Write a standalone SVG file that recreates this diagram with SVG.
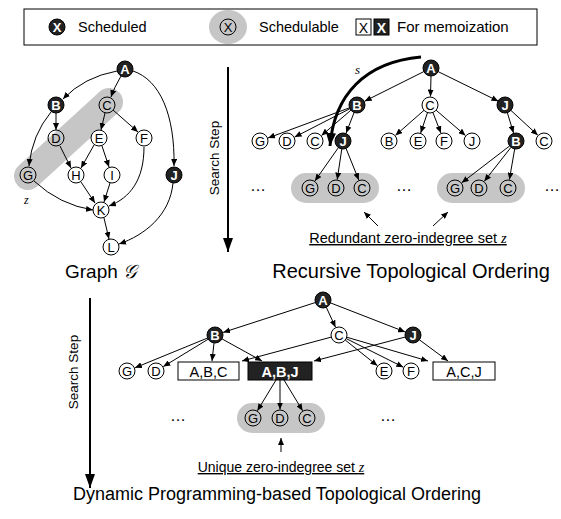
<svg xmlns="http://www.w3.org/2000/svg" width="561" height="519" viewBox="0 0 561 519">
<style>
text{font-family:"Liberation Sans",Arial,sans-serif;fill:#000}
.lbl{font-size:13px;text-anchor:middle}
.b circle{fill:#222;stroke:#000;stroke-width:1}
.b text{fill:#fff;font-weight:bold}
.w circle{fill:#fff;stroke:#000;stroke-width:1}
.g circle{fill:none;stroke:#000;stroke-width:1}
.e{fill:none;stroke:#000;stroke-width:1;marker-end:url(#ah)}
.gray{fill:#c6c6c6}
.title{font-size:19px;text-anchor:middle}
.note{font-size:14.5px;text-anchor:middle;text-decoration:underline}
.box rect{stroke:#000;stroke-width:1}
.dots{font-size:16px;text-anchor:middle}
.leg{font-size:14.5px}
.it{font-style:italic;font-family:"Liberation Serif","Times New Roman",serif}
</style>
<defs>
<marker id="ah" markerUnits="userSpaceOnUse" markerWidth="7" markerHeight="6" refX="7" refY="3" orient="auto"><path d="M0,0 L7,3 L0,6 z" fill="#000"/></marker>
<marker id="big" markerUnits="userSpaceOnUse" markerWidth="14" markerHeight="10" refX="14" refY="5" orient="auto"><path d="M0,0 L14,5 L0,10 z" fill="#000"/></marker>
<marker id="sh" markerUnits="userSpaceOnUse" markerWidth="13" markerHeight="10" refX="13" refY="5" orient="auto"><path d="M0,0 L13,5 L0,10 z" fill="#000"/></marker>
</defs>

<!-- Legend -->
<g id="legend">
<rect x="24" y="9" width="513" height="36" fill="#fff" stroke="#000" stroke-width="1"/>
<g class="b"><circle cx="57" cy="27" r="8"/><text class="lbl" x="57" y="31.5">X</text></g>
<text class="leg" x="78" y="32">Scheduled</text>
<ellipse class="gray" cx="228" cy="27" rx="19" ry="17"/>
<g class="g"><circle cx="228" cy="27" r="8"/><text class="lbl" x="228" y="31.5">X</text></g>
<text class="leg" x="259" y="32">Schedulable</text>
<rect x="356" y="19" width="15" height="16" fill="#fff" stroke="#000"/>
<text x="363.5" y="32.5" font-size="14" text-anchor="middle">X</text>
<rect x="374" y="19" width="15" height="16" fill="#222" stroke="#000"/>
<text x="381.5" y="32.5" font-size="14" text-anchor="middle" font-weight="bold" style="fill:#fff">X</text>
<text x="397" y="32" font-size="15px">For memoization</text>
</g>

<!-- Graph G -->
<line x1="109" y1="102" x2="28" y2="176" stroke="#c6c6c6" stroke-width="28" stroke-linecap="round"/>
<g id="graph-edges">
<path class="e" d="M117,71 Q84,77 63,99"/>
<path class="e" d="M121,76 Q114,88 111,97"/>
<path class="e" d="M133,71 C160,80 175,115 174,166"/>
<path class="e" d="M56,113 L56,130"/>
<path class="e" d="M51,112 Q32,135 29,166"/>
<path class="e" d="M105,113 L101,130"/>
<path class="e" d="M113,110 L138,132"/>
<path class="e" d="M60,146 L71,168"/>
<path class="e" d="M94,145 L81,168"/>
<path class="e" d="M102,146 L109,167"/>
<path class="e" d="M144,147 C144,180 130,198 109,206"/>
<path class="e" d="M34,181 Q60,205 93,210"/>
<path class="e" d="M81,182 L95,203"/>
<path class="e" d="M110,183 L104,202"/>
<path class="e" d="M104,218 L109,239"/>
<path class="e" d="M173,183 C170,215 145,235 119,244"/>
</g>
<g id="gA" class="b"><circle cx="125" cy="69" r="8"/><text class="lbl" x="125" y="73.5">A</text></g>
<g id="gB" class="b"><circle cx="56" cy="105" r="8"/><text class="lbl" x="56" y="109.5">B</text></g>
<g id="gC" class="g"><circle cx="107" cy="105" r="8"/><text class="lbl" x="107" y="109.5">C</text></g>
<g id="gD" class="g"><circle cx="56" cy="138" r="8"/><text class="lbl" x="56" y="142.5">D</text></g>
<g id="gE" class="w"><circle cx="99" cy="138" r="8"/><text class="lbl" x="99" y="142.5">E</text></g>
<g id="gF" class="w"><circle cx="144" cy="138" r="8"/><text class="lbl" x="144" y="142.5">F</text></g>
<g id="gG" class="g"><circle cx="28" cy="175" r="8"/><text class="lbl" x="28" y="179.5">G</text></g>
<g id="gH" class="w"><circle cx="76" cy="175" r="8"/><text class="lbl" x="76" y="179.5">H</text></g>
<g id="gI" class="w"><circle cx="112" cy="175" r="8"/><text class="lbl" x="112" y="179.5">I</text></g>
<g id="gJ" class="b"><circle cx="174" cy="175" r="8"/><text class="lbl" x="174" y="179.5">J</text></g>
<g id="gK" class="w"><circle cx="101" cy="210" r="8"/><text class="lbl" x="101" y="214.5">K</text></g>
<g id="gL" class="w"><circle cx="111" cy="247" r="8"/><text class="lbl" x="111" y="251.5">L</text></g>
<text class="it" x="24" y="204" font-size="12">z</text>
<text class="title" x="101" y="278">Graph <tspan font-family="DejaVu Serif,serif" font-style="italic">𝒢</tspan></text>

<!-- Search step (top) -->
<line x1="228" y1="67" x2="228" y2="252" stroke="#000" stroke-width="2" marker-end="url(#big)"/>
<text x="219" y="158" font-size="13.5" text-anchor="middle" transform="rotate(-90 219 158)">Search Step</text>

<!-- Recursive -->
<rect class="gray" x="291" y="173" width="88" height="30" rx="15"/>
<rect class="gray" x="437" y="173" width="88" height="30" rx="15"/>
<g id="rec-edges">
<path class="e" d="M423.8,71.6 L364.6,101.2"/>
<path class="e" d="M431,76 L430.5,96.5"/>
<path class="e" d="M438.1,71.6 L498.4,101.2"/>
<path class="e" d="M349.5,107.8 L268,138"/>
<path class="e" d="M349.9,108.7 L294.6,137.1"/>
<path class="e" d="M350.9,110.2 L321.5,135.5"/>
<path class="e" d="M354.1,112.5 L346.1,133.1"/>
<path class="e" d="M424,110.3 L395.4,135.4"/>
<path class="e" d="M427.5,112.6 L420.7,132.9"/>
<path class="e" d="M432.9,112.5 L440.9,133.1"/>
<path class="e" d="M436.1,110.2 L465.5,135.5"/>
<path class="e" d="M507.3,112.6 L513.5,132.9"/>
<path class="e" d="M510.9,110.4 L537.8,135.2"/>
<path class="e" d="M338.4,147.6 L314.9,181"/>
<path class="e" d="M341.8,148.9 L337.2,179.6"/>
<path class="e" d="M346,148.4 L358.8,180.1"/>
<path class="e" d="M509.7,145.9 L461.7,182.8"/>
<path class="e" d="M511,147.3 L484.3,181.3"/>
<path class="e" d="M514.7,148.9 L509.4,179.6"/>
<path class="e" d="M378,226 L364,212"/>
<path class="e" d="M433,226 L448,212"/>
<path d="M421,57 C365,62 334,95 330,146" fill="none" stroke="#000" stroke-width="3" marker-end="url(#sh)"/>
</g>
<text class="it" x="355" y="74" font-size="13">s</text>
<g id="rA" class="b"><circle cx="431" cy="68" r="8"/><text class="lbl" x="431" y="72.5">A</text></g>
<g id="rB" class="b"><circle cx="357" cy="105" r="8"/><text class="lbl" x="357" y="109.5">B</text></g>
<g id="rC" class="w"><circle cx="430" cy="105" r="8"/><text class="lbl" x="430" y="109.5">C</text></g>
<g id="rJ" class="b"><circle cx="505" cy="105" r="8"/><text class="lbl" x="505" y="109.5">J</text></g>
<g id="rBG" class="w"><circle cx="260" cy="141" r="8"/><text class="lbl" x="260" y="145.5">G</text></g>
<g id="rBD" class="w"><circle cx="287" cy="141" r="8"/><text class="lbl" x="287" y="145.5">D</text></g>
<g id="rBC" class="w"><circle cx="315" cy="141" r="8"/><text class="lbl" x="315" y="145.5">C</text></g>
<g id="rBJ" class="b"><circle cx="343" cy="141" r="8"/><text class="lbl" x="343" y="145.5">J</text></g>
<g id="rCB" class="w"><circle cx="389" cy="141" r="8"/><text class="lbl" x="389" y="145.5">B</text></g>
<g id="rCE" class="w"><circle cx="418" cy="141" r="8"/><text class="lbl" x="418" y="145.5">E</text></g>
<g id="rCF" class="w"><circle cx="444" cy="141" r="8"/><text class="lbl" x="444" y="145.5">F</text></g>
<g id="rCJ" class="w"><circle cx="472" cy="141" r="8"/><text class="lbl" x="472" y="145.5">J</text></g>
<g id="rJB" class="b"><circle cx="516" cy="141" r="8"/><text class="lbl" x="516" y="145.5">B</text></g>
<g id="rJC" class="w"><circle cx="544" cy="141" r="8"/><text class="lbl" x="544" y="145.5">C</text></g>
<g id="rZ1" class="g">
<circle cx="310" cy="188" r="8"/><text class="lbl" x="310" y="192.5">G</text>
<circle cx="336" cy="188" r="8"/><text class="lbl" x="336" y="192.5">D</text>
<circle cx="362" cy="188" r="8"/><text class="lbl" x="362" y="192.5">C</text>
</g>
<g id="rZ2" class="g">
<circle cx="455" cy="188" r="8"/><text class="lbl" x="455" y="192.5">G</text>
<circle cx="479" cy="188" r="8"/><text class="lbl" x="479" y="192.5">D</text>
<circle cx="508" cy="188" r="8"/><text class="lbl" x="508" y="192.5">C</text>
</g>
<text class="dots" x="258" y="191">…</text>
<text class="dots" x="404" y="191">…</text>
<text class="dots" x="552" y="191">…</text>
<text class="note" x="408" y="243">Redundant zero-indegree set <tspan class="it">z</tspan></text>
<text class="title" x="411" y="278" style="font-size:20px">Recursive Topological Ordering</text>

<!-- Dynamic programming -->
<line x1="90" y1="298" x2="90" y2="488" stroke="#000" stroke-width="2" marker-end="url(#big)"/>
<text x="78" y="372" font-size="13.5" text-anchor="middle" transform="rotate(-90 78 372)">Search Step</text>
<rect class="gray" x="237" y="403" width="88" height="30" rx="15"/>
<g id="dp-edges">
<path class="e" d="M315.4,302.5 L223.1,332.4"/>
<path class="e" d="M326.3,307.3 L335.5,327.3"/>
<path class="e" d="M330.5,302.9 L405.1,331.9"/>
<path class="e" d="M207.6,338 L134.9,367.8"/>
<path class="e" d="M208.2,339.2 L163.3,366.6"/>
<path class="e" d="M214,343 L212,361"/>
<path class="e" d="M222,338.9 L262,361"/>
<path class="e" d="M331.3,337.1 L242,361"/>
<path class="e" d="M405.3,337 L314,361"/>
<path class="e" d="M345.2,340 L377.4,365.7"/>
<path class="e" d="M346.2,338.6 L403.4,367.2"/>
<path class="e" d="M346.7,337.2 L428,361"/>
<path class="e" d="M419.4,339.8 L448,361"/>
<path class="e" d="M276,380 L257.4,410.7"/>
<path class="e" d="M280,380 L280,409.5"/>
<path class="e" d="M284,380 L302.6,410.7"/>
<path class="e" d="M281,452 L281,438"/>
</g>
<g id="dA" class="b"><circle cx="323" cy="300" r="8"/><text class="lbl" x="323" y="304.5">A</text></g>
<g id="dB" class="b"><circle cx="215" cy="335" r="8"/><text class="lbl" x="215" y="339.5">B</text></g>
<g id="dC" class="w"><circle cx="339" cy="335" r="8"/><text class="lbl" x="339" y="339.5">C</text></g>
<g id="dJ" class="b"><circle cx="413" cy="335" r="8"/><text class="lbl" x="413" y="339.5">J</text></g>
<g id="dG" class="w"><circle cx="127" cy="371" r="8"/><text class="lbl" x="127" y="375.5">G</text></g>
<g id="dD" class="w"><circle cx="156" cy="371" r="8"/><text class="lbl" x="156" y="375.5">D</text></g>
<g id="dABC" class="box"><rect x="178" y="362" width="61" height="18" fill="#fff"/><text x="208.5" y="376.5" font-size="14.5" text-anchor="middle">A,B,C</text></g>
<g id="dABJ" class="box"><rect x="248" y="362" width="64" height="18" fill="#222"/><text x="280" y="376.5" font-size="14.5" text-anchor="middle" font-weight="bold" style="fill:#fff">A,B,J</text></g>
<g id="dE" class="w"><circle cx="384" cy="371" r="8"/><text class="lbl" x="384" y="375.5">E</text></g>
<g id="dF" class="w"><circle cx="411" cy="371" r="8"/><text class="lbl" x="411" y="375.5">F</text></g>
<g id="dACJ" class="box"><rect x="433" y="362" width="62" height="18" fill="#fff"/><text x="464" y="376.5" font-size="14.5" text-anchor="middle">A,C,J</text></g>
<g id="dZ" class="g">
<circle cx="253" cy="418" r="8"/><text class="lbl" x="253" y="422.5">G</text>
<circle cx="280" cy="418" r="8"/><text class="lbl" x="280" y="422.5">D</text>
<circle cx="307" cy="418" r="8"/><text class="lbl" x="307" y="422.5">C</text>
</g>
<text class="dots" x="178" y="421">…</text>
<text class="dots" x="388" y="421">…</text>
<text class="note" x="281" y="472" style="font-size:14px">Unique zero-indegree set <tspan class="it">z</tspan></text>
<text class="title" x="277" y="500" style="font-size:18px">Dynamic Programming-based Topological Ordering</text>
</svg>
